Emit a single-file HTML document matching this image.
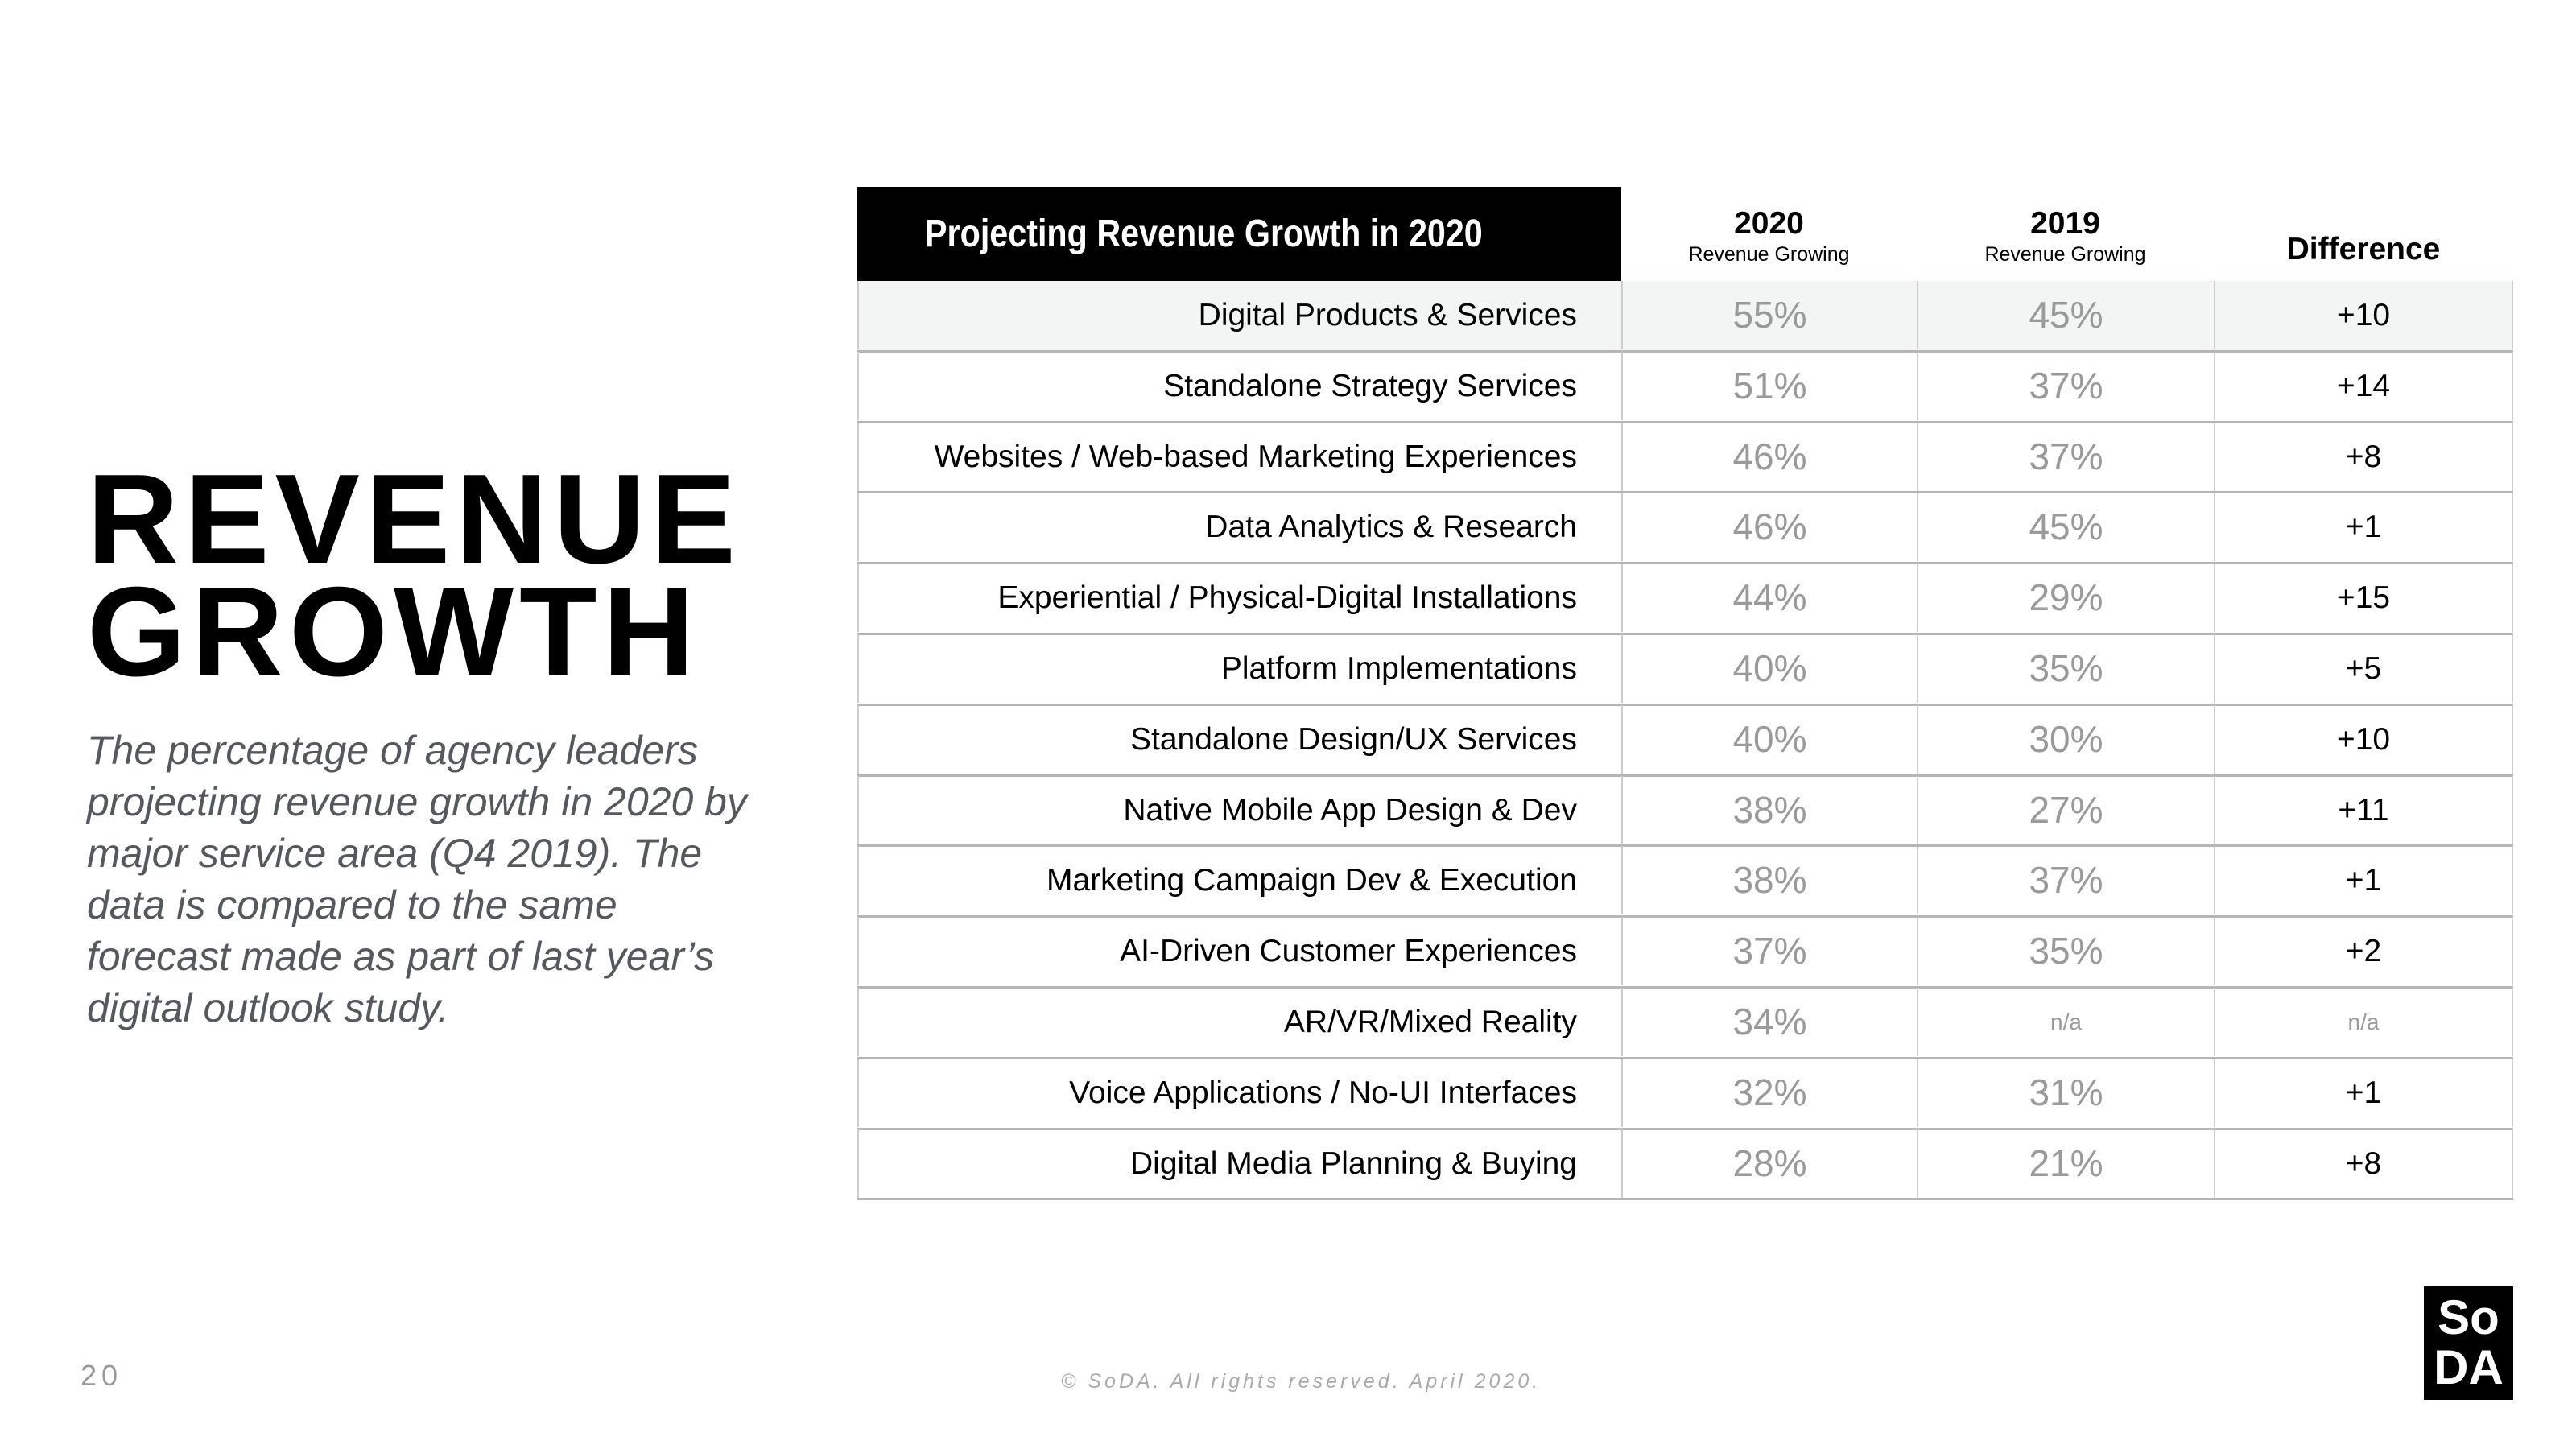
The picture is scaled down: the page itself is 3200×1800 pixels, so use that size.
<!DOCTYPE html>
<html><head><meta charset="utf-8">
<style>
html,body{margin:0;padding:0;background:#fff;}
body{width:3200px;height:1800px;position:relative;overflow:hidden;font-family:"Liberation Sans",sans-serif;}
.title{position:absolute;left:108px;top:575px;font-size:158px;font-weight:bold;line-height:140px;letter-spacing:7px;color:#000;margin:0;}
.desc{position:absolute;left:108px;top:900px;width:920px;font-size:50px;line-height:64px;font-style:italic;color:#55585c;margin:0;white-space:nowrap;}
.hdr{position:absolute;left:1065px;top:232px;width:949px;height:117px;background:#000;}
.hdr span{position:absolute;left:84px;top:31px;color:#fff;font-weight:bold;font-size:48px;transform:scaleX(0.86);transform-origin:left center;white-space:nowrap;}
.colh{position:absolute;text-align:center;color:#000;}
.colh b{display:block;font-size:39px;}
.colh small{display:block;font-size:25px;margin-top:2px;}
#tbl{position:absolute;left:1065px;top:349px;width:2057px;}
.row{position:absolute;left:0;width:2057px;height:88px;border-bottom:3px solid #b5b5b5;box-sizing:border-box;}
.cell{position:absolute;top:0;height:85px;line-height:85px;box-sizing:border-box;}
.lab{left:0;width:949px;text-align:right;padding-right:55px;font-size:39px;color:#000;border-left:2px solid #ccc;}
.v{text-align:center;font-size:46px;color:#9a9a9a;font-weight:300;border-left:2px solid #ccc;}
.d{text-align:center;font-size:39px;color:#000;border-left:2px solid #ccc;border-right:2px solid #ccc;}
.cell.na{font-size:28px;color:#9a9a9a;}
.pg{position:absolute;left:100px;top:1688px;font-size:36px;color:#999;letter-spacing:6px;}
.copy{position:absolute;left:1318px;top:1702px;font-size:25px;font-style:italic;color:#aaa;letter-spacing:4px;}
.logo{position:absolute;left:3011px;top:1598px;width:111px;height:141px;background:#000;color:#fff;font-weight:bold;font-size:60px;line-height:62px;text-align:center;padding-top:8px;box-sizing:border-box;}
</style></head><body>
<h1 class="title">REVENUE<br>GROWTH</h1>
<p class="desc">The percentage of agency leaders<br>projecting revenue growth in 2020 by<br>major service area (Q4 2019). The<br>data is compared to the same<br>forecast made as part of last year’s<br>digital outlook study.</p>
<div class="hdr"><span>Projecting Revenue Growth in 2020</span></div>
<div class="colh" style="left:2014px;width:367px;top:256px;"><b>2020</b><small>Revenue Growing</small></div>
<div class="colh" style="left:2381px;width:369px;top:256px;"><b>2019</b><small>Revenue Growing</small></div>
<div class="colh" style="left:2750px;width:372px;top:288px;"><b>Difference</b></div>
<div id="tbl"></div>
<div class="pg">20</div>
<div class="copy">© SoDA. All rights reserved. April 2020.</div>
<div class="logo">So<br>DA</div>
<script>
const categories=["Digital Products & Services","Standalone Strategy Services","Websites / Web-based Marketing Experiences","Data Analytics & Research","Experiential  / Physical-Digital Installations","Platform Implementations","Standalone Design/UX Services","Native Mobile App Design & Dev","Marketing Campaign Dev & Execution","AI-Driven Customer Experiences","AR/VR/Mixed Reality","Voice Applications / No-UI Interfaces","Digital Media Planning & Buying"];
const values2020=[55,51,46,46,44,40,40,38,38,37,34,32,28];
const values2019=[45,37,37,45,29,35,30,27,37,35,null,31,21];
const differences=[10,14,8,1,15,5,10,11,1,2,null,1,8];
const tbl=document.getElementById('tbl');
const rowH=87.8;
categories.forEach((c,i)=>{
  const r=document.createElement('div');
  
  
  r.className='row';
  r.style.top=(i*rowH)+'px';
  r.style.height=(rowH+1)+'px';
  if(i===0)r.style.background='#f3f4f4';
  const a=values2020[i],b=values2019[i],df=differences[i];
  r.innerHTML='<div class="cell lab">'+c.replace(/&/g,'&amp;')+'</div>'+
   '<div class="cell v" style="left:949px;width:367px">'+a+'%</div>'+
   '<div class="cell v'+(b==null?' na':'')+'" style="left:1316px;width:369px">'+(b==null?'n/a':b+'%')+'</div>'+
   '<div class="cell d'+(df==null?' na':'')+'" style="left:1685px;width:372px">'+(df==null?'n/a':'+'+df)+'</div>';
  r.querySelectorAll('.cell').forEach((el,k)=>{
    
    
  });
  tbl.appendChild(r);
});
</script>
</body></html>
